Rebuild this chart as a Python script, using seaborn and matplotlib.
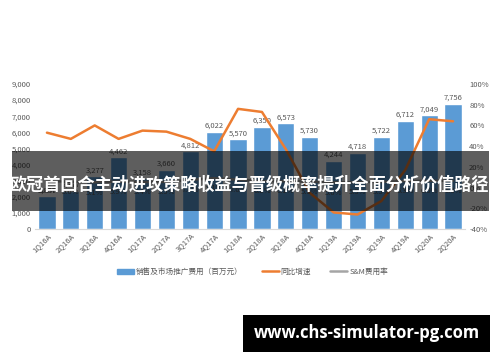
import numpy as np
import pandas as pd
import matplotlib
matplotlib.use('Agg')
import matplotlib.pyplot as plt
from matplotlib.patches import Rectangle
from matplotlib.lines import Line2D
from matplotlib.ticker import FuncFormatter
import seaborn as sns

# Duomenys
quarters = ['1Q16A', '2Q16A', '3Q16A', '4Q16A', '1Q17A', '2Q17A', '3Q17A', '4Q17A',
            '1Q18A', '2Q18A', '3Q18A', '4Q18A', '1Q19A', '2Q19A', '3Q19A', '4Q19A',
            '1Q20A', '2Q20A']
expense = [2037, 2377, 3277, 4462, 3158, 3660, 4812, 6022,
           5570, 6350, 6573, 5730, 4244, 4718, 5722, 6712,
           7049, 7756]
growth = [53, 47, 60, 47, 55, 54, 47, 35,
          76, 73, 37, -5, -24, -26, -13, 17,
          66, 64]
sm_rate = [6.4, 5.6, 5.1, 5.9, 5.4, 5.5, 7.4, 9.1,
           7.6, 6.2, 6.1, 5.9, 5.0, 5.3, 5.5, 6.3,
           6.5, 6.6]

legend_labels = ['销售及市场推广费用（百万元）', '同比增速', 'S&M费用率']
banner_text = '欧冠首回合主动进攻策略收益与晋级概率提升全面分析价值路径'
watermark_text = 'www.chs-simulator-pg.com'

BLUE = '#5B9BD5'
ORANGE = '#ED7D31'
GRAY = '#A5A5A5'
TXT = '#595959'

sns.set_style('white')
plt.rcParams['font.family'] = ['Noto Sans CJK SC', 'DejaVu Sans']

fig = plt.figure(figsize=(5.0, 3.62), dpi=100)
ax = fig.add_axes([0.07, 1 - 229 / 362, 0.86, (229 - 84) / 362])

df = pd.DataFrame({'quarter': quarters, 'expense': expense})
sns.barplot(data=df, x='quarter', y='expense', color=BLUE, saturation=1,
            width=0.72, ax=ax)
ax.set_xlim(-0.5, len(quarters) - 0.5)
ax.set_ylim(0, 9000)
ax.set_yticks(np.arange(0, 9001, 1000))
ax.yaxis.set_major_formatter(FuncFormatter(lambda v, p: f'{int(v):,}'))
ax.set_xlabel('')
ax.set_ylabel('')
ax.tick_params(axis='y', labelsize=5.5, colors=TXT, length=0, pad=3)
ax.tick_params(axis='x', labelsize=5.5, colors=TXT, length=0, pad=2)
plt.setp(ax.get_xticklabels(), rotation=45, ha='right', rotation_mode='anchor')
for s in ['top', 'right', 'left']:
    ax.spines[s].set_visible(False)
ax.spines['bottom'].set_color('#D9D9D9')
ax.spines['bottom'].set_linewidth(0.8)

for i, v in enumerate(expense):
    ax.text(i, v + 120, f'{v:,}', ha='center', va='bottom', fontsize=5.5, color=TXT)

ax2 = ax.twinx()
x = np.arange(len(quarters))
sns.lineplot(x=x, y=growth, color=ORANGE, linewidth=1.8, ax=ax2)
sns.lineplot(x=x, y=sm_rate, color=GRAY, linewidth=1.8, ax=ax2)
for i, v in enumerate(sm_rate):
    ax2.text(i, v - 6, f'{v:.1f}%', ha='center', va='top', fontsize=5.5, color=TXT)
ax2.set_ylim(-40, 100)
ax2.set_yticks(np.arange(-40, 101, 20))
ax2.yaxis.set_major_formatter(FuncFormatter(lambda v, p: f'{int(v)}%'))
ax2.tick_params(axis='y', labelsize=5.5, colors=TXT, length=0, pad=3)
for s in ['top', 'right', 'left', 'bottom']:
    ax2.spines[s].set_visible(False)
ax2.set_xlim(-0.5, len(quarters) - 0.5)

handles = [
    Rectangle((0, 0), 1, 1, color=BLUE),
    Line2D([0], [0], color=ORANGE, linewidth=1.8),
    Line2D([0], [0], color=GRAY, linewidth=1.8),
]
fig.legend(handles, legend_labels, loc='center', bbox_to_anchor=(0.505, 1 - 272 / 362),
           ncol=3, frameon=False, fontsize=5.5, labelcolor=TXT,
           handlelength=2.2, handleheight=0.6, columnspacing=2.5, handletextpad=0.3)

# Tamsi juosta su pavadinimu
fig.add_artist(Rectangle((12 / 500, 1 - 211 / 362), 477 / 500, 60 / 362,
                         transform=fig.transFigure, facecolor='black', alpha=0.63,
                         edgecolor='none', zorder=10))
fig.text(0.5, 1 - 185 / 362, banner_text, ha='center', va='center', color='white',
         fontsize=12.3, fontweight='bold', zorder=11)

# Vandens Å¾enklas
fig.add_artist(Rectangle((243 / 500, 1 - 352 / 362), 247 / 500, 37 / 362,
                         transform=fig.transFigure, facecolor='black',
                         edgecolor='none', zorder=10))
fig.text(367 / 500, 1 - 333 / 362, watermark_text, ha='center', va='center',
         color='white', fontsize=12, fontweight='bold', zorder=11,
         family=['Open Sans', 'DejaVu Sans'])

fig.savefig('out.png', dpi=100)
